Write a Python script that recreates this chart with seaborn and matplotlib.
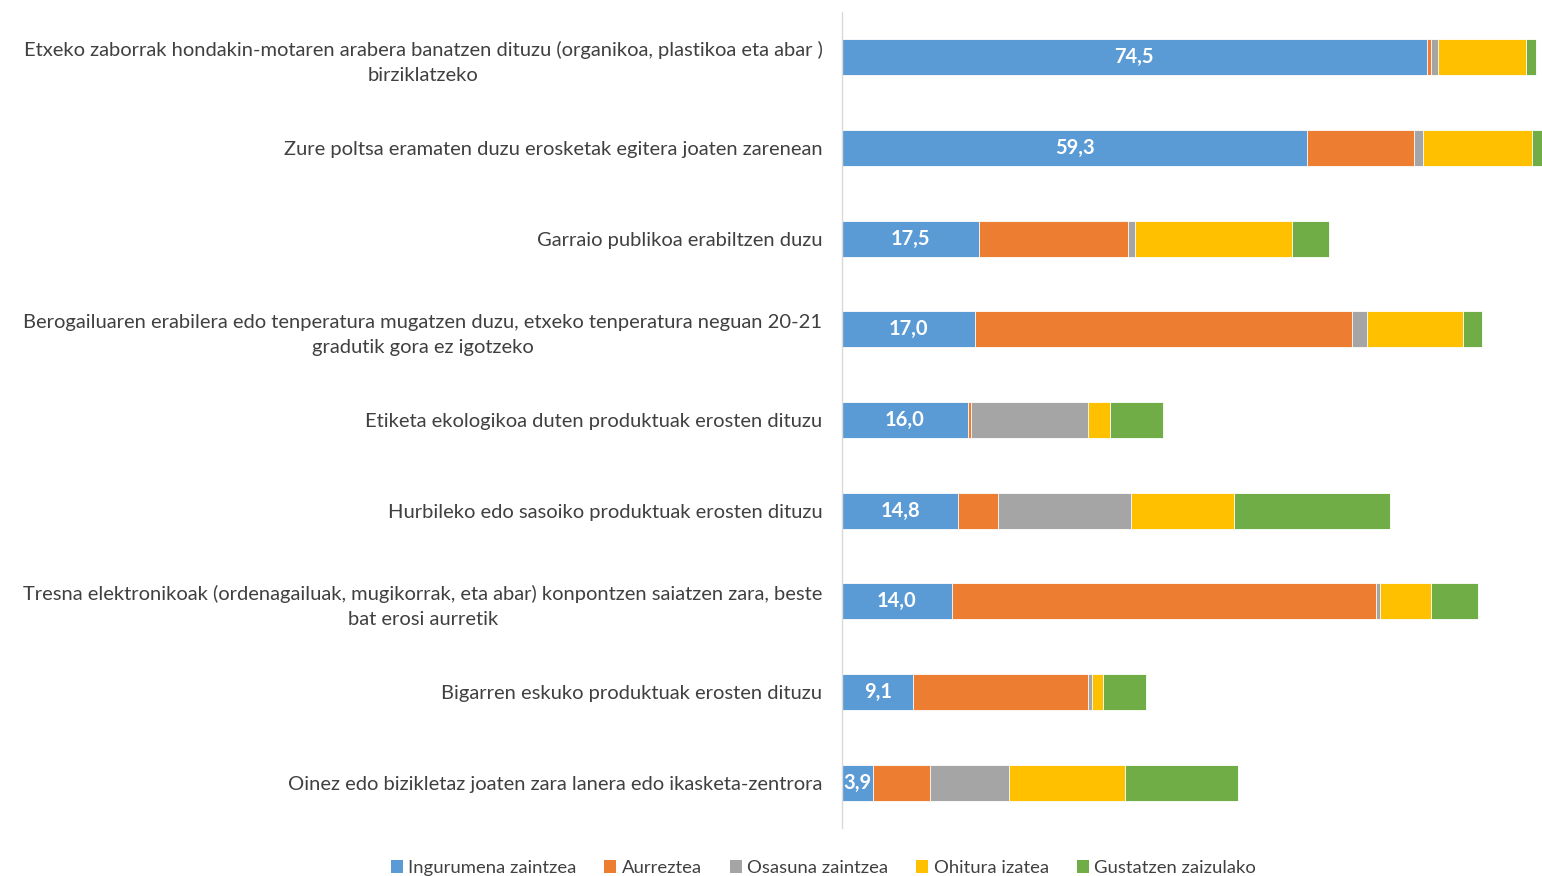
import numpy as np
import pandas as pd
import seaborn as sns
import matplotlib.pyplot as plt
from matplotlib.patches import Patch

# data (percent)
categories = [
    "Etxeko zaborrak hondakin-motaren arabera banatzen dituzu (organikoa, plastikoa eta abar )\nbirziklatzeko",
    "Zure poltsa eramaten duzu erosketak egitera joaten zarenean",
    "Garraio publikoa erabiltzen duzu",
    "Berogailuaren erabilera edo tenperatura mugatzen duzu, etxeko tenperatura neguan 20-21\ngradutik gora ez igotzeko",
    "Etiketa ekologikoa duten produktuak erosten dituzu",
    "Hurbileko edo sasoiko produktuak erosten dituzu",
    "Tresna elektronikoak (ordenagailuak, mugikorrak, eta abar) konpontzen saiatzen zara, beste\nbat erosi aurretik",
    "Bigarren eskuko produktuak erosten dituzu",
    "Oinez edo bizikletaz joaten zara lanera edo ikasketa-zentrora",
]
series_names = ["Ingurumena zaintzea", "Aurreztea", "Osasuna zaintzea", "Ohitura izatea", "Gustatzen zaizulako"]
ingurumena = [74.5, 59.3, 17.5, 17.0, 16.0, 14.8, 14.0, 9.1, 3.9]
aurreztea = [0.5, 13.6, 18.9, 48.0, 0.4, 5.1, 54.0, 22.3, 7.3]
osasuna = [1.0, 1.2, 0.9, 1.9, 15.0, 16.9, 0.5, 0.4, 10.1]
ohitura = [11.1, 13.8, 20.1, 12.2, 2.7, 13.1, 6.6, 1.5, 14.8]
gustatzen = [1.3, 1.4, 4.6, 2.4, 6.8, 19.9, 6.0, 5.4, 14.4]
colors = ["#5B9BD5", "#ED7D31", "#A5A5A5", "#FFC000", "#70AD47"]

sns.set_theme(style="white")
plt.rcParams['font.family'] = ['Lato', 'DejaVu Sans']

df = pd.DataFrame({"cat": categories})
values = [ingurumena, aurreztea, osasuna, ohitura, gustatzen]
cum = np.cumsum(np.array(values), axis=0)

fig = plt.figure(figsize=(15.42, 8.76), dpi=100)
ax = fig.add_axes([0.546, 0.0548, 0.454, 0.9315])

# stacked bars: draw cumulative totals from the back (largest) to the front
for i in range(len(values) - 1, -1, -1):
    df["v"] = cum[i]
    sns.barplot(data=df, x="v", y="cat", orient="h", color=colors[i], width=0.4,
                saturation=1, edgecolor="white", linewidth=0.6, ax=ax)

# blue is drawn last and starts at 0, so its bars are its own values
blue = ax.containers[-1]
ax.bar_label(blue, labels=[f"{v:.1f}".replace(".", ",") for v in ingurumena],
             label_type="center", color="white", fontsize=14.5, fontweight="bold")
ax.set_xlim(0, 89.2)
ax.set_ylim(8.5, -0.5)
ax.set_xlabel("")
ax.set_ylabel("")
ax.set_xticks([])
ax.tick_params(axis="y", length=0, pad=14, labelsize=14.5, labelcolor="#404040")
for lab in ax.get_yticklabels():
    lab.set_multialignment("center")
    lab.set_linespacing(1.55)
for s in ["top", "right", "bottom"]:
    ax.spines[s].set_visible(False)
ax.spines["left"].set_color("#D9D9D9")
ax.spines["left"].set_linewidth(1)

handles = [Patch(facecolor=c, edgecolor="none") for c in colors]
fig.legend(handles, series_names, loc="center", bbox_to_anchor=(0.534, 0.009), ncol=5,
           frameon=False, fontsize=13.3, handlelength=0.65, handleheight=0.65,
           handletextpad=0.3, columnspacing=1.5, labelcolor="#404040",
           borderpad=0.2)

fig.savefig("out.png", dpi=100)
